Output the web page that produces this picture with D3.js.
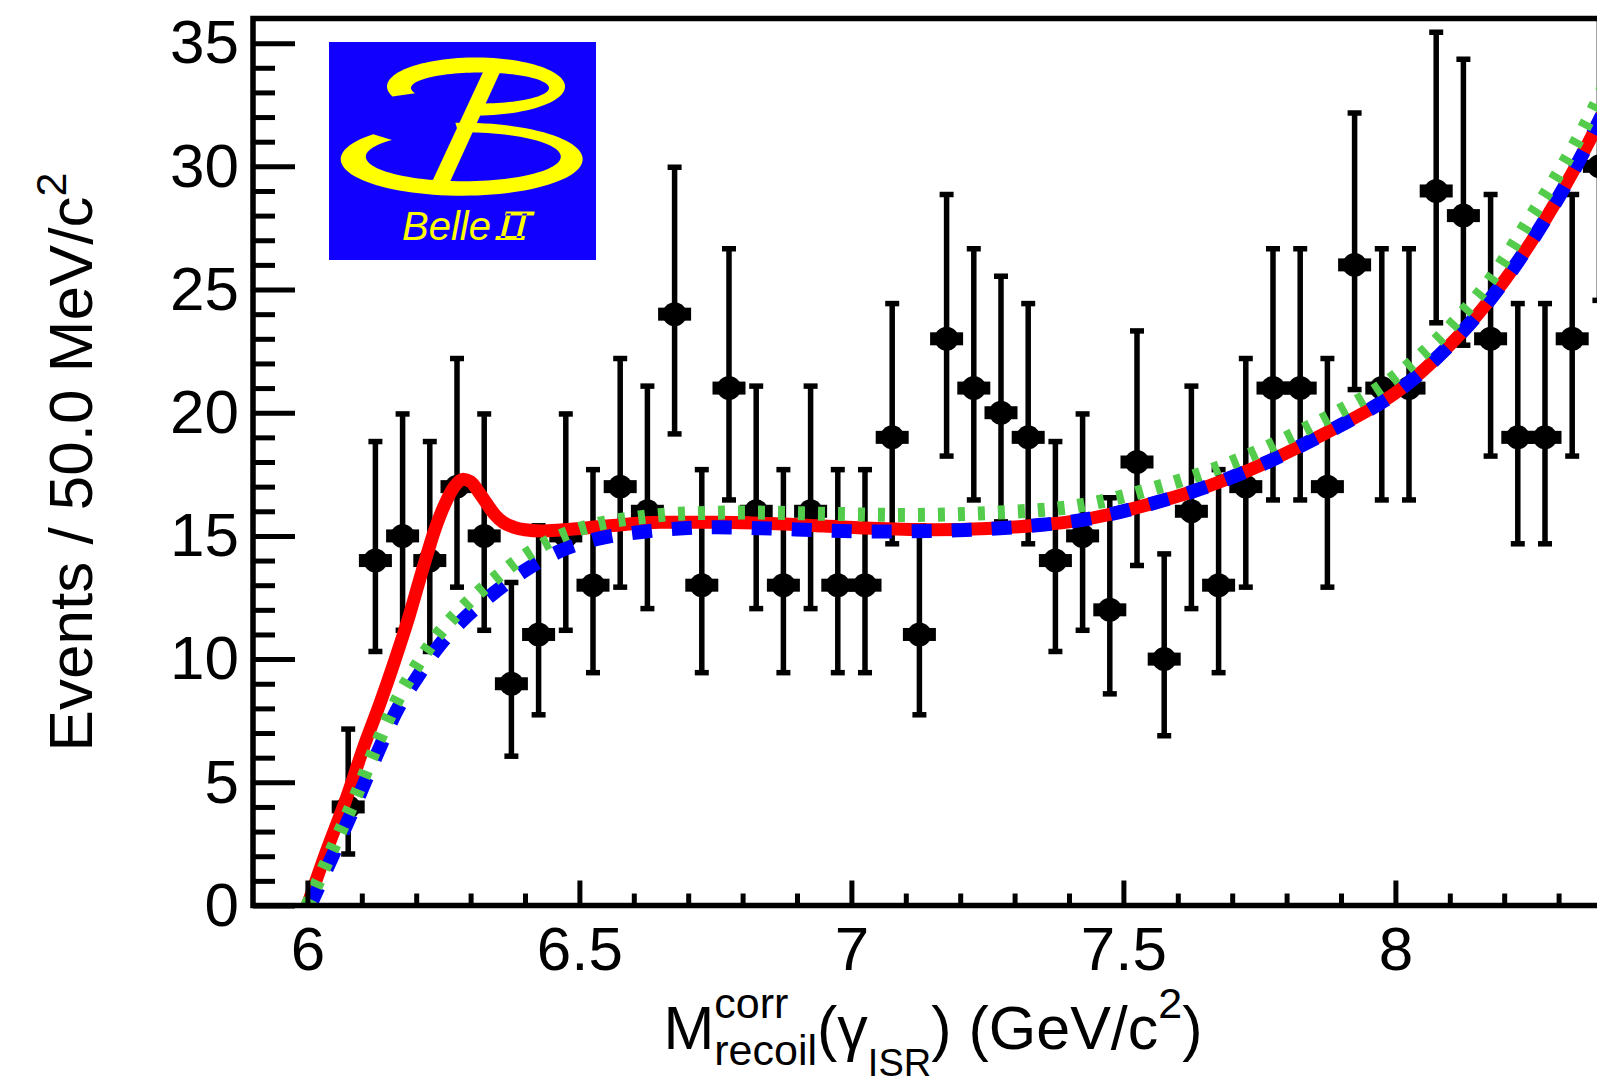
<!DOCTYPE html>
<html>
<head>
<meta charset="utf-8">
<script src="https://cdn.jsdelivr.net/npm/d3@7"></script>
<style>
  html, body { margin: 0; padding: 0; background: #ffffff; }
  svg { display: block; }
</style>
</head>
<body>
<svg id="chart" width="1597" height="1086"></svg>
<script>
// ---- data: events per 50 MeV/c^2 bin ----
const binCenters = [6.075, 6.125, 6.175, 6.225, 6.275, 6.325, 6.375, 6.425, 6.475, 6.525,
                    6.575, 6.625, 6.675, 6.725, 6.775, 6.825, 6.875, 6.925, 6.975, 7.025,
                    7.075, 7.125, 7.175, 7.225, 7.275, 7.325, 7.375, 7.425, 7.475, 7.525,
                    7.575, 7.625, 7.675, 7.725, 7.775, 7.825, 7.875, 7.925, 7.975, 8.025,
                    8.075, 8.125, 8.175, 8.225, 8.275, 8.325, 8.375];
const counts = [4, 14, 15, 14, 17, 15, 9, 11, 15, 13,
                17, 16, 24, 13, 21, 16, 13, 16, 13, 13,
                19, 11, 23, 21, 20, 19, 14, 15, 12, 18,
                10, 16, 13, 17, 21, 21, 17, 26, 21, 21,
                29, 28, 23, 19, 19, 23, 30];
// asymmetric (Poisson) error bar limits
const errLow = [2.09, 10.31, 11.17, 10.31, 12.92, 11.17, 6.06, 7.74, 11.17, 9.45,
                12.92, 12.05, 19.14, 9.45, 16.46, 12.05, 9.45, 12.05, 9.45, 9.45,
                14.68, 7.74, 18.24, 16.46, 15.57, 14.68, 10.31, 11.17, 8.59, 13.80,
                6.89, 12.05, 9.45, 12.92, 16.46, 16.46, 12.92, 20.94, 16.46, 16.46,
                23.65, 22.74, 18.24, 14.68, 14.68, 18.24, 24.56];
const errHigh = [7.16, 18.83, 19.95, 18.83, 22.20, 19.95, 13.11, 15.41, 19.95, 17.69,
                 22.20, 21.08, 29.96, 17.69, 26.65, 21.08, 17.69, 21.08, 17.69, 17.69,
                 24.43, 15.41, 28.86, 26.65, 25.54, 24.43, 18.83, 19.95, 16.55, 23.32,
                 14.27, 21.08, 17.69, 22.20, 26.65, 26.65, 22.20, 32.16, 26.65, 26.65,
                 35.44, 34.35, 28.86, 24.43, 24.43, 28.86, 36.54];

// ---- fit components, sampled along the recoil mass ----
const totalX = [6.000, 6.035, 6.070, 6.103, 6.135, 6.160, 6.185, 6.210, 6.235, 6.255,
                6.270, 6.286, 6.300, 6.316, 6.330, 6.345, 6.360, 6.380, 6.400, 6.430,
                6.470, 6.550, 6.650, 6.750, 6.850, 6.950, 7.050, 7.150, 7.250, 7.350,
                7.410, 7.480, 7.550, 7.620, 7.690, 7.760, 7.830, 7.900, 7.950, 8.000,
                8.050, 8.100, 8.150, 8.200, 8.250, 8.300, 8.350, 8.400];
const totalY = [0.0, 2.2, 4.25, 6.4, 8.3, 9.9, 11.6, 13.5, 15.3, 16.4,
                17.0, 17.3, 17.2, 16.75, 16.3, 15.85, 15.55, 15.35, 15.25, 15.2,
                15.25, 15.4, 15.55, 15.55, 15.5, 15.4, 15.3, 15.25, 15.3, 15.45,
                15.6, 15.9, 16.3, 16.75, 17.3, 17.95, 18.7, 19.5, 20.1, 20.8,
                21.7, 22.75, 23.95, 25.35, 26.95, 28.75, 30.75, 33.0];

const bkgX = [6.005, 6.050, 6.091, 6.127, 6.164, 6.203, 6.237, 6.286, 6.341, 6.400,
              6.466, 6.537, 6.610, 6.684, 6.750, 6.850, 6.950, 7.050, 7.150, 7.250,
              7.350, 7.410, 7.480, 7.550, 7.620, 7.690, 7.760, 7.830, 7.900, 7.950,
              8.000, 8.050, 8.100, 8.150, 8.200, 8.250, 8.300, 8.350, 8.400];
const bkgY = [0.0, 2.2, 4.25, 6.1, 7.9, 9.3, 10.4, 11.6, 12.65, 13.6,
              14.4, 14.9, 15.15, 15.3, 15.35, 15.3, 15.22, 15.18, 15.2, 15.28,
              15.45, 15.6, 15.9, 16.3, 16.75, 17.3, 17.95, 18.7, 19.5, 20.1,
              20.8, 21.7, 22.75, 23.95, 25.35, 26.95, 28.75, 30.75, 33.0];

const altX = [6.000, 6.050, 6.090, 6.127, 6.164, 6.200, 6.237, 6.286, 6.341, 6.400,
              6.466, 6.537, 6.610, 6.684, 6.800, 6.950, 7.100, 7.270, 7.410, 7.550,
              7.690, 7.830, 7.900, 7.970, 8.040, 8.110, 8.175, 8.248, 8.310, 8.364, 8.400];
const altY = [0.0, 2.5, 4.5, 6.5, 8.3, 9.7, 10.9, 12.1, 13.2, 14.2,
              15.0, 15.5, 15.75, 15.9, 15.95, 15.9, 15.85, 15.95, 16.2, 16.9,
              17.9, 19.3, 20.1, 21.0, 22.2, 23.7, 25.4, 27.9, 30.1, 32.3, 34.0];

// ---- axis ticks ----
const yMajorTicks = [0, 5, 10, 15, 20, 25, 30, 35];
const yMinorTicks = d3.range(0, 36, 1).filter(v => v % 5 !== 0);
const xMajorTicks = [6, 6.5, 7, 7.5, 8];
const xTickLabels = ["6", "6.5", "7", "7.5", "8"];
const xMinorTicks = [6.1, 6.2, 6.3, 6.4, 6.6, 6.7, 6.8, 6.9, 7.1, 7.2, 7.3, 7.4,
                     7.6, 7.7, 7.8, 7.9, 8.1, 8.2, 8.3];

// ---- layout ----
const FONT = "'Liberation Sans', Arial, Helvetica, sans-serif";
const LABEL_SIZE = 62;
const svg = d3.select("#chart");
svg.append("rect").attr("width", 1597).attr("height", 1086).attr("fill", "#ffffff");

const x = d3.scaleLinear().domain([5.9, 8.4]).range([253, 1613]);
const y = d3.scaleLinear().domain([0, 36]).range([905.5, 18.5]);

const [x0, x1] = x.range();
const [yB, yT] = y.range();

svg.append("defs").append("clipPath").attr("id", "plotClip")
  .append("rect").attr("x", x0).attr("y", yT).attr("width", x1 - x0).attr("height", yB - yT);

// ---- logo ----
const logo = svg.append("g");
logo.append("rect").attr("x", 329).attr("y", 42).attr("width", 267).attr("height", 218)
  .attr("fill", "#1200ff");

function ribbon(o, i, t0, t1) {
  const n = 90, pts = [];
  for (let k = 0; k <= n; k++) {
    const t = (t0 + (t1 - t0) * k / n) * Math.PI / 180;
    pts.push([o.cx + o.rx * Math.cos(t), o.cy + o.ry * Math.sin(t)]);
  }
  for (let k = n; k >= 0; k--) {
    const t = (t0 + (t1 - t0) * k / n) * Math.PI / 180;
    pts.push([i.cx + i.rx * Math.cos(t), i.cy + i.ry * Math.sin(t)]);
  }
  return "M" + pts.map(p => p[0].toFixed(2) + "," + p[1].toFixed(2)).join("L") + "Z";
}
const yellow = "#ffff00";
// upper bowl
logo.append("path").attr("fill", yellow)
  .attr("d", ribbon({cx: 476, cy: 86.5, rx: 89, ry: 29}, {cx: 480, cy: 88, rx: 69, ry: 15.5}, 160, 455));
// lower bowl
logo.append("path").attr("fill", yellow)
  .attr("d", ribbon({cx: 461.7, cy: 159.2, rx: 121, ry: 36.5}, {cx: 463.3, cy: 156.7, rx: 97.5, ry: 24.5}, -93, 223));
// slanted stem
logo.append("path").attr("fill", yellow)
  .attr("d", "M484,70L501,70L449,184L431,184Z");
// lettering
logo.append("text").attr("x", 402).attr("y", 240)
  .attr("font-family", FONT).attr("font-style", "italic").attr("font-size", 40)
  .attr("fill", yellow).text("Belle");
// roman numeral two, slanted like the italic lettering
logo.append("path").attr("fill", yellow).attr("d",
  "M496,236L525,236L524.2,240L495.2,240Z" +
  "M505.8,211.5L534.8,211.5L534,215.5L505,215.5Z" +
  "M500.5,238L505,238L511,213.5L506.5,213.5Z" +
  "M516.5,238L521,238L527,213.5L522.5,213.5Z");

// ---- data points ----
const pts = svg.append("g").attr("clip-path", "url(#plotClip)");
const data = binCenters.map((c, i) => ({x: c, n: counts[i], lo: errLow[i], hi: errHigh[i]}));
const pg = pts.selectAll("g.pt").data(data).join("g").attr("class", "pt");
pg.append("line")
  .attr("x1", d => x(d.x)).attr("x2", d => x(d.x))
  .attr("y1", d => y(d.lo)).attr("y2", d => y(d.hi))
  .attr("stroke", "#000").attr("stroke-width", 5.5);
pg.append("line")
  .attr("x1", d => x(d.x) - 7).attr("x2", d => x(d.x) + 7)
  .attr("y1", d => y(d.hi)).attr("y2", d => y(d.hi))
  .attr("stroke", "#000").attr("stroke-width", 5.5);
pg.append("line")
  .attr("x1", d => x(d.x) - 7).attr("x2", d => x(d.x) + 7)
  .attr("y1", d => y(d.lo)).attr("y2", d => y(d.lo))
  .attr("stroke", "#000").attr("stroke-width", 5.5);
pg.append("rect")
  .attr("x", d => x(d.x) - 16.5).attr("y", d => y(d.n) - 6.5)
  .attr("width", 33).attr("height", 13).attr("fill", "#000");
pg.append("circle")
  .attr("cx", d => x(d.x)).attr("cy", d => y(d.n)).attr("r", 12).attr("fill", "#000");

// ---- fit curves ----
const curves = svg.append("g").attr("clip-path", "url(#plotClip)");
const line = d3.line().x(d => x(d[0])).y(d => y(d[1])).curve(d3.curveMonotoneX);
curves.append("path").attr("d", line(d3.zip(totalX, totalY)))
  .attr("fill", "none").attr("stroke", "#ff0000").attr("stroke-width", 13);
curves.append("path").attr("d", line(d3.zip(bkgX, bkgY)))
  .attr("fill", "none").attr("stroke", "#0000ff").attr("stroke-width", 14)
  .attr("stroke-dasharray", "20 20");
curves.append("path").attr("d", line(d3.zip(altX, altY)))
  .attr("fill", "none").attr("stroke", "#52cc4a").attr("stroke-width", 14)
  .attr("stroke-dasharray", "7 13");

// ---- axes ----
const axisStyle = g => {
  g.selectAll("path.domain").remove();
  g.selectAll(".tick line").attr("stroke", "#000").attr("stroke-width", 5);
  g.selectAll(".tick text").attr("fill", "#000").attr("font-family", FONT).attr("font-size", LABEL_SIZE);
};

svg.append("g").attr("transform", `translate(${x0},0)`)
  .call(d3.axisLeft(y).tickValues(yMinorTicks).tickSize(-22).tickFormat(""))
  .call(axisStyle);
svg.append("g").attr("transform", `translate(${x0},0)`)
  .call(d3.axisLeft(y).tickValues(yMajorTicks).tickSize(-42).tickPadding(14).tickFormat(d3.format("d")))
  .call(axisStyle);

svg.append("g").attr("transform", `translate(0,${yB})`)
  .call(d3.axisBottom(x).tickValues(xMinorTicks).tickSize(-12).tickFormat(""))
  .call(axisStyle);
svg.append("g").attr("transform", `translate(0,${yB})`)
  .call(d3.axisBottom(x).tickValues(xMajorTicks).tickSize(-25).tickPadding(20)
        .tickFormat((d, i) => xTickLabels[i]))
  .call(axisStyle);

// frame
svg.append("path")
  .attr("d", `M${x1},${yT}L${x0},${yT}L${x0},${yB}L${x1},${yB}`)
  .attr("fill", "none").attr("stroke", "#000").attr("stroke-width", 5.5)
  .attr("stroke-linecap", "square");

// ---- axis titles ----
const yTitle = svg.append("text")
  .attr("transform", `translate(92,${(yB + yT) / 2}) rotate(-90)`)
  .attr("text-anchor", "middle").attr("font-family", FONT).attr("font-size", 62).attr("fill", "#000");
yTitle.append("tspan").text("Events / 50.0 MeV/c");
yTitle.append("tspan").attr("font-size", 43).attr("dy", -26).text("2");

const xTitlePieces = [
  {text: "M", size: 61, dy: 0},
  {text: "corr", size: 43, dy: -31},
  {text: "recoil", size: 43, dy: 16, stack: true},
  {text: "(\u03b3", size: 61, dy: 0},
  {text: "ISR", size: 38, dy: 27},
  {text: ")", size: 61, dy: 0},
  {text: "\u00a0(GeV/c", size: 61, dy: 0},
  {text: "2", size: 43, dy: -31},
  {text: ")", size: 61, dy: 0}
];
const xTitle = svg.append("g");
let cursor = 0, pieceStart = 0;
xTitlePieces.forEach(p => {
  const t = xTitle.append("text").attr("font-family", FONT).attr("font-size", p.size)
    .attr("fill", "#000").attr("y", 1049 + p.dy).text(p.text);
  const w = t.node().getComputedTextLength();
  if (p.stack) {
    t.attr("x", pieceStart);
    cursor = Math.max(cursor, pieceStart + w);
  } else {
    pieceStart = cursor;
    t.attr("x", cursor);
    cursor += w;
  }
});
xTitle.attr("transform", `translate(${(x0 + x1) / 2 - cursor / 2},0)`);
</script>
</body>
</html>
